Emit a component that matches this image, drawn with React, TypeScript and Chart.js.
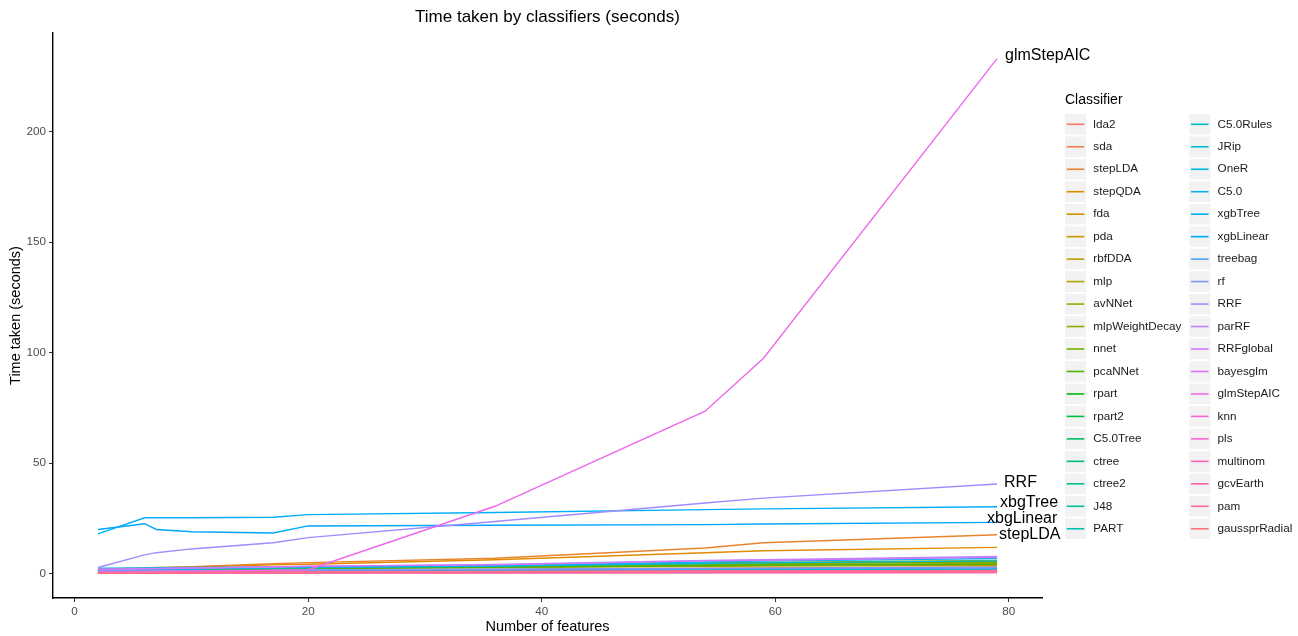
import { useEffect, useRef } from "react";
import { Chart, registerables } from "chart.js";
Chart.register(...registerables);

const TITLE = "Time taken by classifiers (seconds)";
const X_TITLE = "Number of features";
const Y_TITLE = "Time taken (seconds)";
const LEGEND_TITLE = "Classifier";

const FEATURES = [2, 6, 7, 10, 17, 20, 36, 54, 59, 79];
const X_TICKS = [0, 20, 40, 60, 80];
const Y_TICKS = [0, 50, 100, 150, 200];

const CLASSIFIERS = [
  "lda2", "sda", "stepLDA", "stepQDA", "fda", "pda", "rbfDDA", "mlp", "avNNet",
  "mlpWeightDecay", "nnet", "pcaNNet", "rpart", "rpart2", "C5.0Tree", "ctree",
  "ctree2", "J48", "PART", "C5.0Rules", "JRip", "OneR", "C5.0", "xgbTree",
  "xgbLinear", "treebag", "rf", "RRF", "parRF", "RRFglobal", "bayesglm",
  "glmStepAIC", "knn", "pls", "multinom", "gcvEarth", "pam", "gaussprRadial",
];

const lda2 = [0.4, 0.45, 0.5, 0.5, 0.55, 0.6, 0.7, 0.8, 0.85, 1.0];
const sda = [0.5, 0.55, 0.6, 0.6, 0.7, 0.7, 0.8, 0.9, 0.95, 1.1];
const stepLDA = [2.0, 2.6, 2.8, 3.2, 4.5, 5.0, 7.0, 11.6, 14.0, 17.6];
const stepQDA = [1.8, 2.3, 2.5, 3.0, 4.0, 4.3, 6.3, 9.5, 10.4, 11.9];
const fda = [0.9, 1.0, 1.1, 1.2, 1.5, 1.6, 2.0, 2.5, 2.6, 3.0];
const pda = [0.3, 0.35, 0.35, 0.4, 0.45, 0.5, 0.6, 0.7, 0.75, 0.9];
const rbfDDA = [1.2, 1.4, 1.5, 1.7, 2.1, 2.3, 2.8, 3.3, 3.4, 3.8];
const mlp = [1.5, 1.8, 1.9, 2.1, 2.5, 2.7, 3.3, 3.9, 4.1, 4.6];
const avNNet = [1.6, 2.0, 2.1, 2.3, 2.8, 3.0, 3.8, 4.8, 5.1, 6.0];
const mlpWeightDecay = [1.4, 1.7, 1.8, 2.0, 2.5, 2.7, 3.4, 4.5, 4.8, 5.5];
const nnet = [1.3, 1.6, 1.7, 1.9, 2.3, 2.5, 3.2, 4.3, 4.6, 5.2];
const pcaNNet = [1.2, 1.5, 1.6, 1.8, 2.1, 2.3, 2.9, 3.6, 3.8, 4.2];
const rpart = [0.4, 0.45, 0.5, 0.5, 0.6, 0.6, 0.7, 0.8, 0.8, 0.9];
const rpart2 = [0.4, 0.45, 0.5, 0.5, 0.55, 0.6, 0.65, 0.75, 0.8, 0.9];
const c50Tree = [0.6, 0.7, 0.7, 0.8, 0.9, 1.0, 1.2, 1.4, 1.5, 1.7];
const ctree = [0.9, 1.0, 1.0, 1.1, 1.3, 1.4, 1.7, 2.0, 2.1, 2.4];
const ctree2 = [0.8, 0.9, 0.9, 1.0, 1.2, 1.3, 1.5, 1.8, 1.9, 2.2];
const j48 = [0.6, 0.7, 0.7, 0.8, 1.0, 1.0, 1.2, 1.5, 1.6, 1.8];
const part = [0.7, 0.8, 0.9, 1.0, 1.2, 1.3, 1.6, 2.0, 2.1, 2.5];
const c50Rules = [0.6, 0.7, 0.7, 0.8, 1.0, 1.0, 1.3, 1.6, 1.7, 2.0];
const jRip = [1.5, 1.7, 1.8, 2.0, 2.5, 2.7, 3.4, 4.6, 4.9, 5.8];
const oneR = [0.3, 0.3, 0.35, 0.35, 0.4, 0.4, 0.5, 0.55, 0.6, 0.7];
const c50 = [2.5, 2.6, 2.7, 2.8, 3.0, 3.1, 3.5, 5.3, 5.7, 6.9];
const xgbTree = [18, 25.3, 25.3, 25.3, 25.5, 26.7, 27.7, 29.0, 29.3, 30.3];
const xgbLinear = [20, 22.6, 20, 19, 18.4, 21.6, 21.9, 22.2, 22.5, 23.2];
const treebag = [1.0, 1.1, 1.1, 1.2, 1.4, 1.5, 1.8, 2.1, 2.2, 2.4];
const rf = [1.1, 1.2, 1.3, 1.4, 1.6, 1.7, 2.0, 2.4, 2.5, 2.9];
const rrf = [2.8, 8.5, 9.5, 11.2, 14.0, 16.3, 23.6, 32.0, 34.2, 40.6];
const parRF = [1.8, 2.1, 2.2, 2.5, 3.0, 3.3, 4.2, 6.0, 6.3, 7.8];
const rrfGlobal = [2.0, 2.3, 2.4, 2.6, 3.1, 3.4, 4.0, 5.8, 6.1, 7.4];
const bayesglm = [0.5, 0.55, 0.6, 0.6, 0.7, 0.75, 0.9, 1.0, 1.05, 1.2];
const glmStepAIC = [0.8, 0.9, 1.0, 1.2, 1.5, 1.8, 30.5, 73.5, 97.5, 233];
const knn = [0.3, 0.35, 0.4, 0.45, 0.55, 0.6, 0.8, 1.0, 1.05, 1.3];
const pls = [0.2, 0.25, 0.25, 0.3, 0.35, 0.4, 0.45, 0.5, 0.55, 0.6];
const multinom = [0.4, 0.45, 0.5, 0.55, 0.65, 0.7, 0.9, 1.1, 1.2, 1.5];
const gcvEarth = [0.3, 0.35, 0.4, 0.45, 0.5, 0.55, 0.7, 0.85, 0.9, 1.1];
const pam = [0.2, 0.2, 0.2, 0.25, 0.25, 0.3, 0.3, 0.35, 0.35, 0.4];
const gaussprRadial = [0.5, 0.6, 0.65, 0.7, 0.8, 0.85, 1.0, 1.2, 1.25, 1.4];

const SERIES = [
  lda2, sda, stepLDA, stepQDA, fda, pda, rbfDDA, mlp, avNNet, mlpWeightDecay,
  nnet, pcaNNet, rpart, rpart2, c50Tree, ctree, ctree2, j48, part, c50Rules,
  jRip, oneR, c50, xgbTree, xgbLinear, treebag, rf, rrf, parRF, rrfGlobal,
  bayesglm, glmStepAIC, knn, pls, multinom, gcvEarth, pam, gaussprRadial,
];

const END_LABELS = [
  { series: "glmStepAIC", text: "glmStepAIC", dx: 8, dy: -3 },
  { series: "RRF", text: "RRF", dx: 7, dy: -1 },
  { series: "xgbTree", text: "xbgTree", dx: 3, dy: -4 },
  { series: "xgbLinear", text: "xbgLinear", dx: -10, dy: -4 },
  { series: "stepLDA", text: "stepLDA", dx: 2, dy: 0 },
];

const FONT = "'Liberation Sans', Arial, Helvetica, sans-serif";

// ggplot2 default hue palette (hcl, c = 100, l = 65)
function hclHex(h: number, c: number, l: number): string {
  const hr = (h * Math.PI) / 180;
  const U = c * Math.cos(hr);
  const V = c * Math.sin(hr);
  const WY = 100, Wu = 0.1978398, Wv = 0.4683363;
  const Y = WY * (l > 7.999592 ? Math.pow((l + 16) / 116, 3) : l / 903.3);
  const u = U / (13 * l) + Wu;
  const v = V / (13 * l) + Wv;
  const X = (9.0 * Y * u) / (4 * v);
  const Z = -X / 3 - 5 * Y + (3 * Y) / v;
  const g = (t: number) => (t > 0.00304 ? 1.055 * Math.pow(t, 1 / 2.4) - 0.055 : 12.92 * t);
  const r = g((3.240479 * X - 1.53715 * Y - 0.498535 * Z) / WY);
  const gg = g((-0.969256 * X + 1.875992 * Y + 0.041556 * Z) / WY);
  const b = g((0.055648 * X - 0.204043 * Y + 1.057311 * Z) / WY);
  const to = (t: number) => {
    const n = Math.round(Math.min(1, Math.max(0, t)) * 255);
    return n.toString(16).padStart(2, "0");
  };
  return "#" + to(r) + to(gg) + to(b);
}

function huePal(n: number): string[] {
  const out: string[] = [];
  for (let i = 0; i < n; i++) out.push(hclHex(15 + (i * 360) / n, 100, 65));
  return out;
}

const COLORS = huePal(CLASSIFIERS.length);

const decorPlugin = {
  id: "decor",
  afterDraw(chart: any) {
    const ctx = chart.ctx as CanvasRenderingContext2D;
    const a = chart.chartArea;
    ctx.save();
    ctx.fillStyle = "#000";
    ctx.textAlign = "center";
    ctx.textBaseline = "middle";
    ctx.font = `17px ${FONT}`;
    ctx.fillText(TITLE, (a.left + a.right) / 2, 17);
    ctx.font = `14.5px ${FONT}`;
    ctx.fillText(X_TITLE, (a.left + a.right) / 2, 627);
    ctx.save();
    ctx.translate(16, (a.top + a.bottom) / 2);
    ctx.rotate(-Math.PI / 2);
    ctx.fillText(Y_TITLE, 0, 0);
    ctx.restore();

    // direct labels at line ends
    ctx.textAlign = "left";
    ctx.font = `16px ${FONT}`;
    END_LABELS.forEach((lab) => {
      const di = CLASSIFIERS.indexOf(lab.series);
      const meta = chart.getDatasetMeta(di);
      const pt = meta.data[meta.data.length - 1];
      ctx.fillText(lab.text, pt.x + lab.dx, pt.y + lab.dy);
    });

    // legend
    const lx = 1065, titleY = 100, firstY = 124.3, rowH = 22.47, colW = 124.3;
    const keyW = 21, keyH = 20.6, rows = 19;
    ctx.font = `14px ${FONT}`;
    ctx.fillStyle = "#000";
    ctx.fillText(LEGEND_TITLE, lx, titleY);
    ctx.font = `11.7px ${FONT}`;
    CLASSIFIERS.forEach((name, i) => {
      const col = Math.floor(i / rows);
      const row = i % rows;
      const x = lx + col * colW;
      const cy = firstY + row * rowH;
      ctx.fillStyle = "#F2F2F2";
      ctx.fillRect(x, cy - keyH / 2, keyW, keyH);
      ctx.strokeStyle = COLORS[i];
      ctx.lineWidth = 1.6;
      ctx.beginPath();
      ctx.moveTo(x + 1.7, cy);
      ctx.lineTo(x + keyW - 1.7, cy);
      ctx.stroke();
      ctx.fillStyle = "#1a1a1a";
      ctx.fillText(name, x + 28.3, cy);
    });
    ctx.restore();
  },
};

export default function App() {
  const ref = useRef<HTMLCanvasElement | null>(null);
  useEffect(() => {
    if (!ref.current) return;
    const n = CLASSIFIERS.length;
    const datasets = CLASSIFIERS.map((name, i) => ({
      label: name,
      data: FEATURES.map((f, j) => ({ x: f, y: SERIES[i][j] })),
      borderColor: COLORS[i],
      backgroundColor: COLORS[i],
      borderWidth: 1.4,
      pointRadius: 0,
      tension: 0,
      fill: false,
      order: n - i,
    }));
    const chart = new Chart(ref.current, {
      type: "line",
      data: { datasets },
      plugins: [decorPlugin],
      options: {
        responsive: false,
        devicePixelRatio: 1,
        animation: false,
        events: [],
        layout: { padding: { left: 0, right: 256, top: 33, bottom: 0 } },
        plugins: {
          legend: { display: false },
          title: { display: false },
          tooltip: { enabled: false },
        },
        scales: {
          x: {
            type: "linear",
            min: -1.85,
            max: 82.85,
            afterBuildTicks: (s: any) => {
              s.ticks = X_TICKS.map((v) => ({ value: v }));
            },
            afterFit: (s: any) => {
              s.height = 38;
            },
            grid: { drawOnChartArea: false, drawTicks: true, tickLength: 4, color: "#333333", lineWidth: 1 },
            border: { display: true, color: "#000000", width: 1.4 },
            ticks: { color: "#4D4D4D", font: { family: FONT, size: 11.7 }, padding: 3, maxRotation: 0, autoSkip: false },
          },
          y: {
            type: "linear",
            min: -11,
            max: 244.6,
            afterBuildTicks: (s: any) => {
              s.ticks = Y_TICKS.map((v) => ({ value: v }));
            },
            afterFit: (s: any) => {
              s.width = 53;
            },
            grid: { drawOnChartArea: false, drawTicks: true, tickLength: 4, color: "#333333", lineWidth: 1 },
            border: { display: true, color: "#000000", width: 1.4 },
            ticks: { color: "#4D4D4D", font: { family: FONT, size: 11.7 }, padding: 3, autoSkip: false },
          },
        },
      } as any,
    });
    return () => chart.destroy();
  }, []);
  return (
    <div style={{ position: "fixed", left: 0, top: 0, width: 1298, height: 636, background: "#fff" }}>
      <canvas ref={ref} width={1298} height={636} style={{ width: 1298, height: 636, display: "block" }} />
    </div>
  );
}
